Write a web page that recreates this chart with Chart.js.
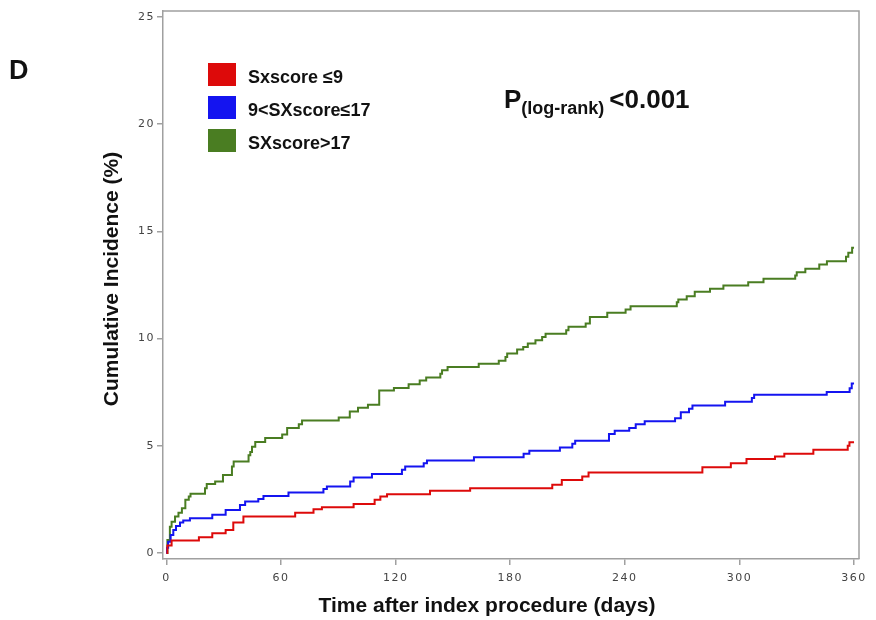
<!DOCTYPE html>
<html>
<head>
<meta charset="utf-8">
<script src="https://cdn.jsdelivr.net/npm/chart.js@4"></script>
<style>
  body { margin: 0; background: #fff; }
</style>
</head>
<body>
<canvas id="km" width="876" height="620"></canvas>
<script>
// Kaplan-Meier style cumulative incidence
// each pair = day of the event step, cumulative incidence (%) after the step
const redDays = [0, 0.5, 2.7, 17, 24, 31, 35, 40.3, 67.4, 77, 81.4, 98, 109, 112, 115.5, 138, 159, 202, 207, 217.7, 221, 280.6, 295.5, 303.7, 318.6, 323.5, 338.7, 356.7, 357.6, 360];
const redVals = [0, 0.35, 0.58, 0.73, 0.92, 1.07, 1.42, 1.70, 1.88, 2.04, 2.13, 2.29, 2.48, 2.63, 2.74, 2.90, 3.02, 3.18, 3.41, 3.57, 3.75, 4.00, 4.19, 4.38, 4.50, 4.63, 4.81, 5.00, 5.17, 5.17];

const blueDays = [0, 0.3, 0.9, 2.2, 3.6, 5, 7.1, 8.8, 12.3, 24, 31, 38.5, 41.2, 48.1, 50.8, 63.9, 82.2, 84, 96.2, 98, 107.6, 123.3, 125, 134.7, 136.4, 161, 187, 190, 206, 212.5, 214, 231.7, 234.7, 242.3, 245.7, 250.4, 266.3, 269.3, 273.6, 275.4, 292.5, 306.5, 307.7, 345.7, 357.7, 358.8, 360];
const blueVals = [0, 0.25, 0.53, 0.84, 1.07, 1.26, 1.42, 1.51, 1.62, 1.78, 2.00, 2.24, 2.40, 2.52, 2.66, 2.82, 2.98, 3.10, 3.33, 3.52, 3.69, 3.88, 4.03, 4.19, 4.31, 4.47, 4.63, 4.77, 4.92, 5.09, 5.23, 5.55, 5.70, 5.83, 6.01, 6.14, 6.29, 6.57, 6.73, 6.88, 7.06, 7.23, 7.38, 7.51, 7.69, 7.90, 7.90];

const greenDays = [0, 0.5, 1.8, 2.7, 4.5, 6.3, 8.1, 9.9, 11.7, 12.6, 20.2, 21.1, 25.5, 29.6, 34.3, 35.2, 43, 43.9, 44.8, 46.5, 51.7, 60.6, 63.2, 69.3, 71, 90.2, 96, 100.3, 105.5, 111.4, 119.1, 126.8, 132.6, 136, 143.4, 144.3, 147.2, 163.5, 174, 177.5, 178.4, 183.6, 186.8, 189.2, 193.2, 196.7, 198.5, 209.3, 210.5, 219.5, 221.7, 230.8, 240.4, 243, 267.2, 268, 272.4, 276.6, 284.6, 291.6, 304.6, 312.6, 329.2, 330, 334.5, 341.8, 345.8, 355.8, 357, 359, 360];
const greenVals = [0, 0.61, 1.23, 1.46, 1.70, 1.88, 2.09, 2.48, 2.63, 2.76, 3.02, 3.22, 3.33, 3.64, 4.03, 4.27, 4.56, 4.71, 4.95, 5.18, 5.36, 5.53, 5.83, 6.00, 6.18, 6.32, 6.60, 6.78, 6.92, 7.58, 7.70, 7.87, 8.04, 8.19, 8.36, 8.52, 8.68, 8.83, 8.97, 9.14, 9.30, 9.49, 9.61, 9.77, 9.92, 10.08, 10.23, 10.39, 10.55, 10.70, 11.01, 11.20, 11.36, 11.51, 11.70, 11.82, 11.98, 12.18, 12.32, 12.48, 12.63, 12.79, 12.94, 13.10, 13.26, 13.46, 13.61, 13.82, 14.00, 14.24, 14.24];

const groupLabels = ["Sxscore \u22649", "9<SXscore\u226417", "SXscore>17"];
const groupColors = ["#dd0a0a", "#1414f0", "#4a7d22"];
const xTicks = [0, 60, 120, 180, 240, 300, 360];
const yTicks = [0, 5, 10, 15, 20, 25];

const toPoints = (days, vals) => days.map((d, i) => ({ x: d, y: vals[i] }));
const series = [
  toPoints(redDays, redVals),
  toPoints(blueDays, blueVals),
  toPoints(greenDays, greenVals)
];

const sans = '"Liberation Sans", Arial, sans-serif';

// spaced-out tick digits like the original
const spacing = {
  id: 'spacing',
  beforeDraw(chart) { chart.ctx.letterSpacing = '1.5px'; },
  afterDatasetsDraw(chart) { chart.ctx.letterSpacing = '0px'; }
};

// frame, legend boxes and the annotations
const decor = {
  id: 'decor',
  afterDraw(chart) {
    const ctx = chart.ctx;
    const a = chart.chartArea;
    ctx.save();
    ctx.letterSpacing = '0px';
    ctx.strokeStyle = '#a0a0a0';
    ctx.lineWidth = 1.5;
    ctx.beginPath();
    ctx.moveTo(a.left, a.top);
    ctx.lineTo(a.right, a.top);
    ctx.lineTo(a.right, a.bottom);
    ctx.stroke();

    // legend
    chart.data.datasets.forEach((ds, i) => {
      const y = 63 + i * 33;
      ctx.fillStyle = ds.borderColor;
      ctx.fillRect(208, y, 28, 23);
      ctx.fillStyle = '#111';
      ctx.font = 'bold 18px ' + sans;
      ctx.textBaseline = 'alphabetic';
      ctx.textAlign = 'left';
      ctx.fillText(ds.label, 248, y + 20);
    });

    // panel letter
    ctx.fillStyle = '#111';
    ctx.font = 'bold 27px ' + sans;
    ctx.fillText('D', 9, 79);

    // p-value
    let x = 504;
    ctx.font = 'bold 26px ' + sans;
    ctx.fillText('P', x, 108);
    x += ctx.measureText('P').width;
    ctx.font = 'bold 18px ' + sans;
    ctx.fillText('(log-rank)', x, 114);
    x += ctx.measureText('(log-rank)').width + 5;
    ctx.font = 'bold 26px ' + sans;
    ctx.fillText('<0.001', x, 108);

    // axis titles
    ctx.font = 'bold 21px ' + sans;
    ctx.textAlign = 'center';
    ctx.fillText('Time after index procedure (days)', 487, 612);
    ctx.translate(118, 279);
    ctx.rotate(-Math.PI / 2);
    ctx.fillText('Cumulative Incidence (%)', 0, 0);
    ctx.restore();
  }
};

const tickFont = { family: '"DejaVu Sans", sans-serif', size: 11 };

new Chart(document.getElementById('km').getContext('2d'), {
  type: 'line',
  data: {
    datasets: series.map((pts, i) => ({
      label: groupLabels[i],
      data: pts,
      borderColor: groupColors[i],
      backgroundColor: groupColors[i],
      borderWidth: 2,
      stepped: true,
      pointRadius: 0,
      fill: false
    }))
  },
  options: {
    responsive: false,
    animation: false,
    layout: { padding: { top: 11, right: 17, left: 0, bottom: 0 } },
    plugins: { legend: { display: false }, tooltip: { enabled: false } },
    scales: {
      x: {
        type: 'linear',
        min: -1.8,
        max: 362.6,
        afterBuildTicks: (s) => { s.ticks = xTicks.map(v => ({ value: v })); },
        afterFit: (s) => { s.height = 61; },
        ticks: { font: tickFont, color: '#444', padding: 7, maxRotation: 0, autoSkip: false },
        grid: { drawOnChartArea: false, tickLength: 6, color: '#a0a0a0', lineWidth: 1.5 },
        border: { color: '#a0a0a0', width: 1.5 }
      },
      y: {
        type: 'linear',
        min: -0.28,
        max: 25.28,
        afterBuildTicks: (s) => { s.ticks = yTicks.map(v => ({ value: v })); },
        afterFit: (s) => { s.width = 163; },
        ticks: { font: tickFont, color: '#444', padding: 2, autoSkip: false },
        grid: { drawOnChartArea: false, tickLength: 6, color: '#a0a0a0', lineWidth: 1.5 },
        border: { color: '#a0a0a0', width: 1.5 }
      }
    }
  },
  plugins: [spacing, decor]
});
</script>
</body>
</html>
